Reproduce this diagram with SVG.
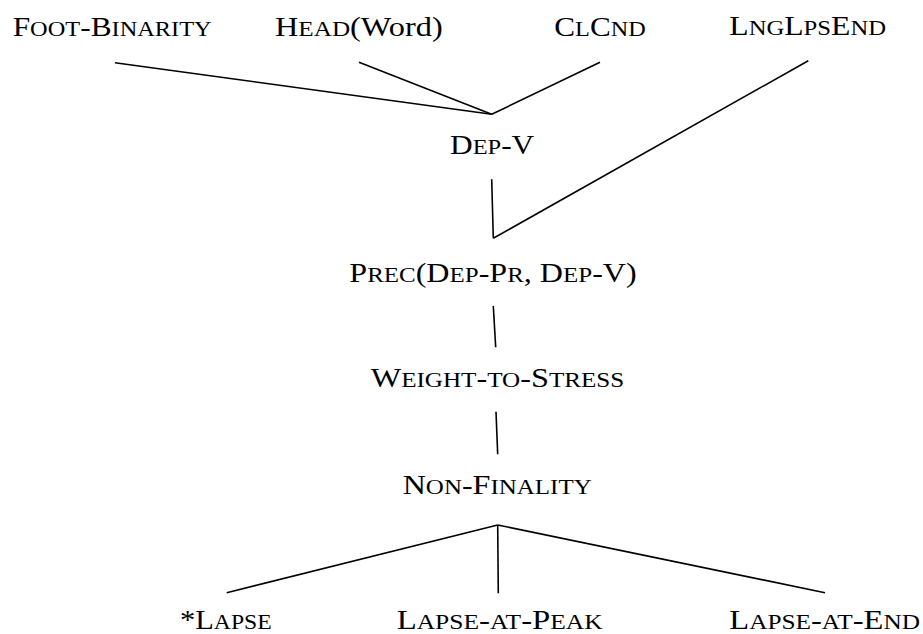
<svg xmlns="http://www.w3.org/2000/svg" width="923" height="634" viewBox="0 0 923 634">
<style>
text{font-family:"Liberation Serif","Times New Roman",serif;font-size:27px;fill:#000}
.s{font-size:21px}
.c line{stroke:#000;stroke-width:1.6;stroke-linecap:butt}
</style>
<rect width="923" height="634" fill="#fff"/>
<g class="c" id="connectors">
<line x1="115" y1="62.7" x2="491.7" y2="114.3"/>
<line x1="359" y1="62.3" x2="491.7" y2="114.3"/>
<line x1="600" y1="62.3" x2="491.7" y2="114.3"/>
<line x1="808.3" y1="60.7" x2="493.3" y2="238.3"/>
<line x1="491.7" y1="179.3" x2="493.3" y2="238.3"/>
<line x1="493.3" y1="306" x2="495.7" y2="347.3"/>
<line x1="496" y1="411.7" x2="497.7" y2="454.3"/>
<line x1="497.7" y1="525" x2="226.7" y2="592.7"/>
<line x1="497.7" y1="525" x2="498.3" y2="593.3"/>
<line x1="497.7" y1="525" x2="825" y2="592.7"/>
</g>
<g id="foot-binarity"><text x="12.7" y="36" textLength="199" lengthAdjust="spacingAndGlyphs">F<tspan class="s">OOT</tspan>-B<tspan class="s">INARITY</tspan></text></g>
<g id="head-word"><text x="275" y="36" textLength="167.7" lengthAdjust="spacingAndGlyphs">H<tspan class="s">EAD</tspan>(Word)</text></g>
<g id="clcnd"><text x="554.3" y="36" textLength="91.4" lengthAdjust="spacingAndGlyphs">C<tspan class="s">L</tspan>C<tspan class="s">ND</tspan></text></g>
<g id="lnglpsend"><text x="729.3" y="34.7" textLength="156.7" lengthAdjust="spacingAndGlyphs">L<tspan class="s">NG</tspan>L<tspan class="s">PS</tspan>E<tspan class="s">ND</tspan></text></g>
<g id="dep-v"><text x="450" y="154" textLength="84.3" lengthAdjust="spacingAndGlyphs">D<tspan class="s">EP</tspan>-V</text></g>
<g id="prec"><text x="349.3" y="281.7" textLength="287.4" lengthAdjust="spacingAndGlyphs">P<tspan class="s">REC</tspan>(D<tspan class="s">EP</tspan>-P<tspan class="s">R</tspan>, D<tspan class="s">EP</tspan>-V)</text></g>
<g id="weight-to-stress"><text x="370.7" y="386.7" textLength="253.6" lengthAdjust="spacingAndGlyphs">W<tspan class="s">EIGHT</tspan>-<tspan class="s">TO</tspan>-S<tspan class="s">TRESS</tspan></text></g>
<g id="non-finality"><text x="402.7" y="494" textLength="189" lengthAdjust="spacingAndGlyphs">N<tspan class="s">ON</tspan>-F<tspan class="s">INALITY</tspan></text></g>
<g id="lapse"><text x="180" y="629" textLength="91.7" lengthAdjust="spacingAndGlyphs">*L<tspan class="s">APSE</tspan></text></g>
<g id="lapse-at-peak"><text x="396.7" y="629" textLength="206" lengthAdjust="spacingAndGlyphs">L<tspan class="s">APSE</tspan>-<tspan class="s">AT</tspan>-P<tspan class="s">EAK</tspan></text></g>
<g id="lapse-at-end"><text x="729.3" y="629" textLength="190.7" lengthAdjust="spacingAndGlyphs">L<tspan class="s">APSE</tspan>-<tspan class="s">AT</tspan>-E<tspan class="s">ND</tspan></text></g>
</svg>
